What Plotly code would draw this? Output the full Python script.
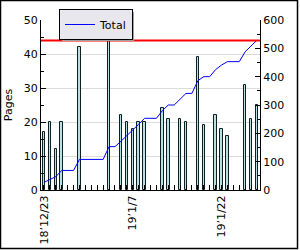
import pandas as pd
import plotly.graph_objects as go

# ---- data ----
start_day = "2018-12-23"
n_days = 37
pages = [17, 20, 12, 20, None, None, 42, None, None, None, None, 44, None, 22, 20, 18, 20, 20,
         None, None, 24, 21, None, 21, 20, None, 39, 19, None, 22, 18, 16, None, None, 31, 21, 25]
total = [27, 37, 47, 69, 69, 69, 108, 108, 108, 108, 108, 153, 153, 172, 191, 210, 232, 253,
         253, 253, 280, 300, 300, 321, 341, 341, 386, 400, 400, 425, 441, 453, 453, 453, 488, 510, 529]
target = 44
tick_dates = ["2018-12-23", "2019-01-07", "2019-01-22"]
tick_labels = ["18\u201912/23", "19\u20191/7", "19\u20191/22"]

days = pd.date_range(start_day, periods=n_days)
DAY = 86400000
FONT = "DejaVu Sans"

fig = go.Figure()
fig.add_trace(go.Bar(x=days, y=pages, width=0.42 * DAY, showlegend=False,
                     marker=dict(color="#b4e2e6", line=dict(color="#102020", width=1))))
fig.add_trace(go.Scatter(x=days, y=total, yaxis="y2", mode="lines", name="Total",
                         line=dict(color="#0000ff", width=1)))

fig.add_shape(type="line", xref="paper", x0=0, x1=1, yref="y", y0=target, y1=target,
              line=dict(color="#ff0000", width=2), layer="above")

# plot area pixel geometry
L, R, T, B, W, H = 41, 40, 20, 60, 300, 250
pw, ph = W - L - R, H - T - B
def px(x):
    return (x - L) / pw
def py(y):
    return (H - B - y) / ph

# outer frame
fig.add_shape(type="rect", xref="paper", yref="paper", x0=px(0.5), x1=px(297.5),
              y0=py(248.5), y1=py(0.5), line=dict(color="black", width=1.5), layer="above")
# legend shadow
fig.add_shape(type="rect", xref="paper", yref="paper", x0=px(62), x1=px(134),
              y0=py(41), y1=py(12), fillcolor="#a0a0a0", line=dict(width=0), layer="above")

fig.update_layout(
    width=W, height=H, margin=dict(l=L, r=R, t=T, b=B, autoexpand=False),
    plot_bgcolor="white", paper_bgcolor="white",
    font=dict(family=FONT, size=10, color="black"),
    bargap=0,
    legend=dict(x=px(59), y=py(9), xanchor="left", yanchor="top",
                bgcolor="#e9e7ee", bordercolor="black", borderwidth=1,
                font=dict(size=11), itemwidth=30),
    xaxis=dict(type="date", range=[days[0] - pd.Timedelta(hours=12), days[-1] + pd.Timedelta(hours=12)],
               tickvals=tick_dates, ticktext=tick_labels, tickangle=-90, automargin=False,
               ticks="inside", ticklen=5, tickcolor="black",
               minor=dict(ticks="inside", ticklen=5, dtick=DAY, tick0=start_day, tickcolor="black", showgrid=False),
               showline=True, linecolor="black", showgrid=False, zeroline=False,
               tickfont=dict(size=11)),
    yaxis=dict(range=[0, 50], dtick=10, ticks="inside", ticklen=5, tickcolor="black", automargin=False,
               minor=dict(ticks="inside", ticklen=3, dtick=5, tickcolor="black", showgrid=False),
               showline=True, linecolor="black", gridcolor="#dcdcdc", zeroline=False,
               title=dict(text="Pages", font=dict(size=11), standoff=8),
               tickfont=dict(size=11)),
    yaxis2=dict(range=[0, 600], dtick=100, overlaying="y", side="right", automargin=False,
                ticks="inside", ticklen=5, tickcolor="black",
                minor=dict(ticks="inside", ticklen=3, dtick=50, tickcolor="black", showgrid=False),
                showline=True, linecolor="black", showgrid=False, zeroline=False,
                tickfont=dict(size=11)),
)

fig.write_html("out.html")
